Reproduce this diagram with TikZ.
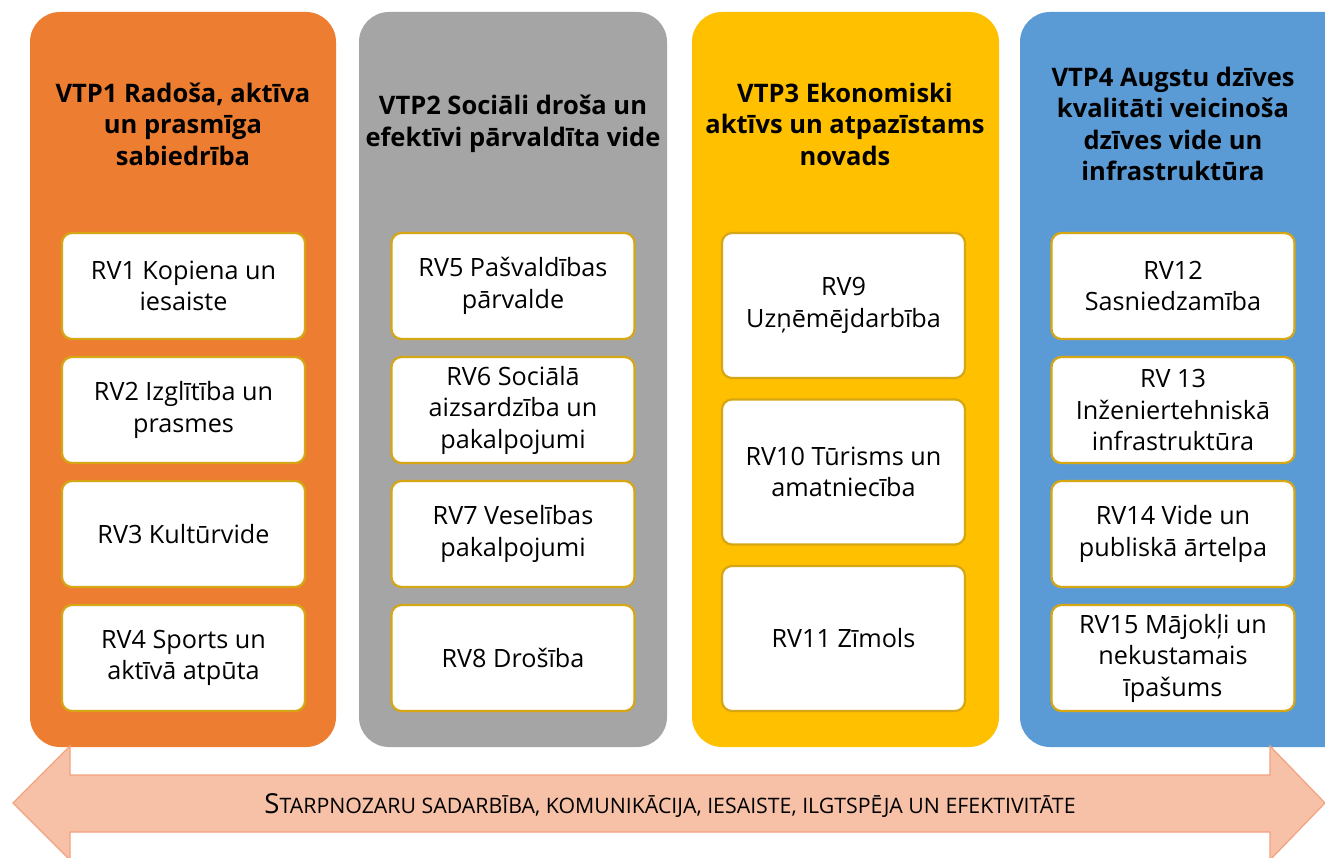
\documentclass[tikz,border=0pt]{standalone}
\usepackage{fontspec}
\setmainfont{Open Sans}
\definecolor{corange}{HTML}{ED7D31}
\definecolor{cgray}{HTML}{A5A5A5}
\definecolor{cyellow}{HTML}{FFC000}
\definecolor{cblue}{HTML}{5B9BD5}
\definecolor{cgold}{HTML}{D6A614}
\definecolor{carrowfill}{HTML}{F7C1A8}
\definecolor{carrowline}{HTML}{F3A27E}
\tikzset{
  head/.style={font=\bfseries\fontsize{25.5}{31.5}\selectfont, align=center, inner sep=0pt, text=black},
  rvbox/.style={draw=cgold, line width=2.2pt, fill=white, rounded corners=10pt,
     minimum width=243pt, minimum height=106pt, align=center, inner sep=0pt,
     font=\fontsize{25.2}{31.5}\selectfont, text=black},
  rvtall/.style={rvbox, minimum height=145pt},
}
\begin{document}
\begin{tikzpicture}[x=1pt,y=-1pt]
\clip (0,0) rectangle (1325,858);
\fill[white] (0,0) rectangle (1325,858);
% columns
\fill[corange, rounded corners=30pt] (30,12) rectangle (336,747);
\fill[cgray, rounded corners=30pt] (359,12) rectangle (667,747);
\fill[cyellow, rounded corners=30pt] (692,12) rectangle (999,747);
\fill[cblue, rounded corners=30pt] (1020,12) rectangle (1356,747);
% headers
\node[head] (h1) at (183,124) {VTP1 Radoša, aktīva\\un prasmīga\\sabiedrība};
\node[head] (h2) at (513,124) {VTP2 Sociāli droša un\\efektīvi pārvaldīta vide};
\node[head] (h3) at (845,124) {VTP3 Ekonomiski\\aktīvs un atpazīstams\\novads};
\node[head] (h4) at (1173,124) {VTP4 Augstu dzīves\\kvalitāti veicinoša\\dzīves vide un\\infrastruktūra};
% column 1
\node[rvbox] (rv1) at (183.5,286) {RV1 Kopiena un\\iesaiste};
\node[rvbox] (rv2) at (183.5,410) {RV2 Izglītība un\\prasmes};
\node[rvbox] (rv3) at (183.5,534) {RV3 Kultūrvide};
\node[rvbox] (rv4) at (183.5,658) {RV4 Sports un\\aktīvā atpūta};
% column 2
\node[rvbox] (rv5) at (513,286) {RV5 Pašvaldības\\pārvalde};
\node[rvbox] (rv6) at (513,410) {RV6 Sociālā\\aizsardzība un\\pakalpojumi};
\node[rvbox] (rv7) at (513,534) {RV7 Veselības\\pakalpojumi};
\node[rvbox] (rv8) at (513,658) {RV8 Drošība};
% column 3
\node[rvtall] (rv9) at (843.5,305.5) {RV9\\Uzņēmējdarbība};
\node[rvtall] (rv10) at (843.5,472) {RV10 Tūrisms un\\amatniecība};
\node[rvtall] (rv11) at (843.5,638.5) {RV11 Zīmols};
% column 4
\node[rvbox] (rv12) at (1173,286) {RV12\\Sasniedzamība};
\node[rvbox] (rv13) at (1173,410) {RV 13\\Inženiertehniskā\\infrastruktūra};
\node[rvbox] (rv14) at (1173,534) {RV14 Vide un\\publiskā ārtelpa};
\node[rvbox] (rv15) at (1173,658) {RV15 Mājokļi un\\nekustamais\\īpašums};
% bottom double arrow
\draw[fill=carrowfill, draw=carrowline, line width=1.2pt, line join=miter]
  (13,803) -- (70,746) -- (70,775) -- (1270,775) -- (1270,746) -- (1325,803)
  -- (1270,860) -- (1270,832) -- (70,832) -- (70,860) -- cycle;
\node[inner sep=0pt, text=black] (band) at (670,806)
  {{\fontsize{27.5}{30}\selectfont S}{\fontsize{21.3}{30}\selectfont TARPNOZARU SADARBĪBA, KOMUNIKĀCIJA, IESAISTE, ILGTSPĒJA UN EFEKTIVITĀTE}};
\end{tikzpicture}
\end{document}
